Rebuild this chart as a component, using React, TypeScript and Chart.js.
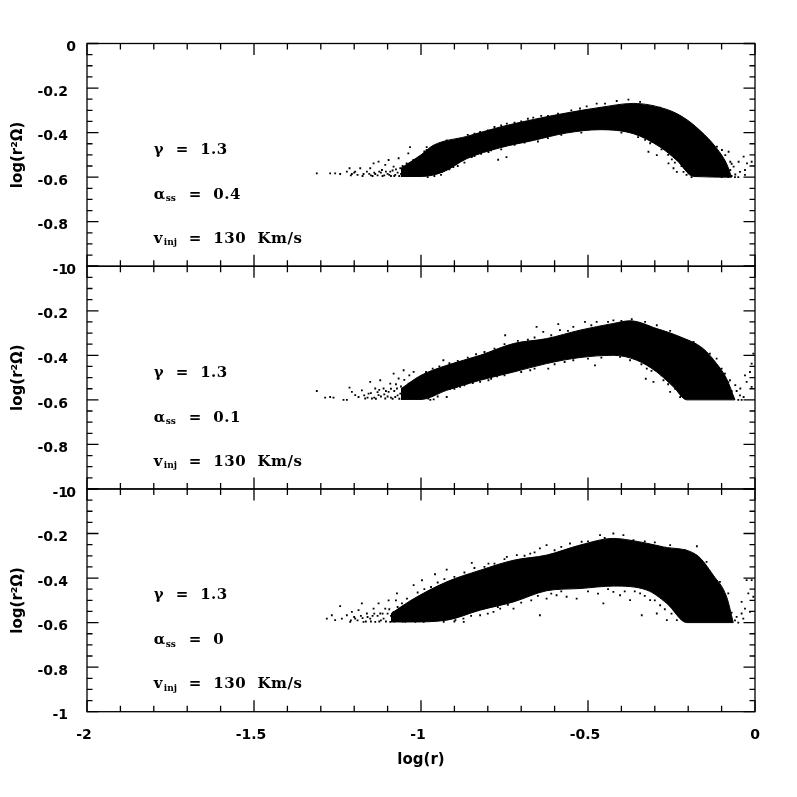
import React, { useEffect, useRef } from "react";
import { Chart, registerables } from "chart.js";

Chart.register(...registerables);

// ---------- data ----------
const panelIds = ["y1", "y2", "y3"];
const alphaValues = ["0.4", "0.1", "0"];
const gammaText = "γ  =  1.3";
const alphaSub = "ss";
const injSub = "inj";
const injText = "=  130  Km/s";
const noteX = -1.8;
const noteRows = [-0.478, -0.68, -0.878];
const yTitle = "log(r²Ω)";
const xTitle = "log(r)";

const p1UpperX = [-1.06, -1.0, -0.963, -0.863, -0.763, -0.663, -0.565, -0.464, -0.364, -0.264, -0.214, -0.165, -0.115, -0.085, -0.07];
const p1UpperY = [-0.56, -0.5, -0.457, -0.417, -0.375, -0.341, -0.312, -0.287, -0.269, -0.296, -0.332, -0.39, -0.47, -0.54, -0.6];
const p1LowerX = [-1.06, -1.0, -0.934, -0.863, -0.763, -0.663, -0.565, -0.464, -0.364, -0.284, -0.234, -0.184, -0.07];
const p1LowerY = [-0.597, -0.597, -0.577, -0.517, -0.468, -0.435, -0.402, -0.387, -0.405, -0.465, -0.525, -0.597, -0.6];

const p2UpperX = [-1.06, -1.0, -0.923, -0.823, -0.723, -0.624, -0.524, -0.424, -0.374, -0.294, -0.224, -0.155, -0.115, -0.085, -0.06];
const p2UpperY = [-0.55, -0.49, -0.445, -0.4, -0.347, -0.325, -0.287, -0.257, -0.245, -0.28, -0.317, -0.37, -0.437, -0.505, -0.6];
const p2LowerX = [-1.06, -1.0, -0.923, -0.823, -0.723, -0.624, -0.524, -0.424, -0.354, -0.294, -0.244, -0.204, -0.06];
const p2LowerY = [-0.598, -0.598, -0.557, -0.512, -0.475, -0.437, -0.41, -0.4, -0.422, -0.475, -0.542, -0.6, -0.6];

const p3UpperX = [-1.09, -1.03, -0.923, -0.823, -0.723, -0.624, -0.524, -0.424, -0.374, -0.274, -0.174, -0.125, -0.085, -0.065];
const p3UpperY = [-0.56, -0.5, -0.417, -0.365, -0.32, -0.297, -0.252, -0.222, -0.23, -0.26, -0.297, -0.387, -0.484, -0.6];
const p3LowerX = [-1.09, -1.03, -0.923, -0.823, -0.723, -0.624, -0.524, -0.424, -0.324, -0.264, -0.204, -0.065];
const p3LowerY = [-0.597, -0.597, -0.589, -0.544, -0.507, -0.457, -0.447, -0.436, -0.454, -0.514, -0.6, -0.6];

const p1Dots = [
  [-1.312,-0.583],[-1.272,-0.583],[-1.257,-0.583],[-1.242,-0.586],[-1.222,-0.575],[-1.214,-0.56],[-1.207,-0.586],[-1.197,-0.575],
  [-1.182,-0.56],[-1.172,-0.586],[-1.162,-0.575],[-1.152,-0.56],[-1.142,-0.538],[-1.137,-0.586],[-1.127,-0.53],[-1.117,-0.568],
  [-1.107,-0.545],[-1.097,-0.523],[-1.092,-0.575],[-1.082,-0.553],[-1.077,-0.59],[-1.067,-0.515],[-1.062,-0.56],[-1.053,-0.575],
  [-1.043,-0.538],[-1.038,-0.493],[-1.028,-0.583],[-1.023,-0.523],[-1.013,-0.553],[-1.003,-0.59],[-0.983,-0.478],[-0.963,-0.463],
  [-1.15,-0.592],[-1.14,-0.58],[-1.13,-0.592],[-1.12,-0.58],[-1.11,-0.592],[-1.1,-0.585],[-1.09,-0.595],[-1.085,-0.57],[-1.07,-0.58],
  [-1.065,-0.595],[-1.05,-0.595],[-1.045,-0.565],[-1.04,-0.58],[-1.03,-0.56],[-1.025,-0.595],[-1.015,-0.54],[-1.01,-0.575],[-1.0,-0.56],
  [-0.744,-0.51],[-0.769,-0.522],[-0.798,-0.487],[-0.848,-0.51],[-0.903,-0.555],[-0.938,-0.577],[-1.033,-0.465],[-0.983,-0.465],
  [-0.923,-0.435],[-0.823,-0.397],[-0.743,-0.36],[-0.664,-0.333],[-0.524,-0.292],[-0.504,-0.282],[-0.474,-0.27],[-0.449,-0.27],
  [-0.414,-0.258],[-0.379,-0.252],[-0.344,-0.262],[-0.305,-0.282],[-0.285,-0.288],
  [-0.329,-0.433],[-0.314,-0.448],[-0.299,-0.441],[-0.319,-0.486],[-0.294,-0.501],[-0.259,-0.538],[-0.244,-0.56],[-0.229,-0.523],
  [-0.214,-0.576],[-0.199,-0.583],[-0.234,-0.576],[-0.249,-0.52],
  [-0.114,-0.463],[-0.099,-0.478],[-0.079,-0.486],[-0.089,-0.501],[-0.104,-0.523],[-0.074,-0.531],[-0.064,-0.553],[-0.049,-0.531],
  [-0.034,-0.508],[-0.024,-0.538],[-0.01,-0.531],[-0.045,-0.576],[-0.03,-0.568],[-0.074,-0.568],[-0.094,-0.583],[-0.059,-0.588],
  [-0.104,-0.568],[-0.03,-0.59],
  [-0.99,-0.485],[-0.97,-0.47],[-0.95,-0.46],[-0.93,-0.45],[-0.905,-0.44],[-0.88,-0.43],[-0.86,-0.41],[-0.84,-0.405],[-0.8,-0.39],
  [-0.78,-0.375],[-0.76,-0.368],[-0.72,-0.355],[-0.7,-0.35],[-0.68,-0.338],[-0.64,-0.325],[-0.62,-0.325],[-0.59,-0.315],[-0.55,-0.3],
  [-0.98,-0.6],[-0.96,-0.595],[-0.94,-0.59],[-0.915,-0.565],[-0.89,-0.55],[-0.87,-0.535],[-0.84,-0.505],[-0.82,-0.495],[-0.79,-0.48],
  [-0.76,-0.475],[-0.72,-0.455],[-0.69,-0.445],[-0.65,-0.44],[-0.62,-0.425],[-0.58,-0.41],[-0.52,-0.4],[-0.4,-0.4],
  [-0.35,-0.42],[-0.33,-0.42],[-0.31,-0.44],[-0.28,-0.475],[-0.26,-0.5],[-0.24,-0.535],[-0.22,-0.55],[-0.205,-0.59],[-0.19,-0.6],
  [-1.155,-0.585],[-1.145,-0.595],[-1.125,-0.575],[-1.115,-0.595],[-1.105,-0.575],[-1.095,-0.59],[-1.08,-0.595],[-1.075,-0.565],
  [-1.06,-0.585],[-1.055,-0.55],[-1.035,-0.54],[-1.02,-0.56],[-1.19,-0.59],[-1.2,-0.58],[-1.21,-0.592],[-1.175,-0.595],
  [-0.11,-0.5],[-0.09,-0.53],[-0.085,-0.56],[-0.07,-0.54],[-0.08,-0.6],[-0.07,-0.595],[-0.06,-0.6],[-0.05,-0.6],[-0.1,-0.6],[-0.09,-0.595],
];

const p2Dots = [
  [-1.312,-0.56],[-1.287,-0.59],[-1.272,-0.587],[-1.262,-0.59],[-1.232,-0.6],[-1.222,-0.6],[-1.214,-0.545],[-1.207,-0.564],
  [-1.197,-0.579],[-1.187,-0.587],[-1.177,-0.557],[-1.167,-0.594],[-1.157,-0.572],[-1.152,-0.519],[-1.147,-0.594],[-1.137,-0.549],
  [-1.127,-0.579],[-1.122,-0.512],[-1.112,-0.549],[-1.107,-0.594],[-1.097,-0.564],[-1.092,-0.527],[-1.082,-0.482],[-1.077,-0.587],
  [-1.072,-0.549],[-1.067,-0.504],[-1.062,-0.572],[-1.052,-0.467],[-1.047,-0.594],[-1.037,-0.527],[-1.027,-0.564],[-1.022,-0.474],
  [-1.012,-0.594],[-1.002,-0.549],[-0.987,-0.587],[-0.972,-0.6],[-0.962,-0.598],[-0.977,-0.557],[-0.933,-0.422],[-0.923,-0.549],
  [-0.893,-0.542],[-0.863,-0.527],
  [-1.08,-0.56],[-1.075,-0.53],[-1.07,-0.58],[-1.06,-0.54],[-1.055,-0.59],[-1.05,-0.51],[-1.045,-0.55],[-1.04,-0.575],[-1.035,-0.49],
  [-1.03,-0.535],[-1.02,-0.59],[-1.015,-0.51],[-1.11,-0.575],[-1.1,-0.585],[-1.12,-0.585],[-1.13,-0.565],[-1.14,-0.59],[-1.09,-0.55],[-1.085,-0.595],
  [-0.748,-0.31],[-0.654,-0.272],[-0.589,-0.26],[-0.634,-0.295],[-0.584,-0.287],[-0.544,-0.272],[-0.509,-0.25],[-0.474,-0.25],
  [-0.424,-0.243],[-0.369,-0.238],[-0.329,-0.25],[-0.294,-0.265],[-0.254,-0.29],[-0.184,-0.34],[-0.135,-0.392],[-0.115,-0.415],
  [-0.09,-0.482],[-0.075,-0.512],[-0.479,-0.445],[-0.619,-0.46],[-0.673,-0.467],[-0.544,-0.422],[-0.404,-0.407],[-0.374,-0.422],
  [-0.324,-0.46],[-0.294,-0.452],[-0.327,-0.505],[-0.304,-0.519],[-0.274,-0.512],[-0.254,-0.564],[-0.224,-0.587],[-0.239,-0.55],[-0.214,-0.572],
  [-0.059,-0.534],[-0.044,-0.549],[-0.034,-0.587],[-0.03,-0.49],[-0.015,-0.475],[-0.025,-0.519],[-0.01,-0.437],[-0.01,-0.542],[-0.005,-0.392],[-0.045,-0.58],
  [-0.943,-0.557],[-0.913,-0.55],[-0.883,-0.542],[-0.823,-0.519],[-0.798,-0.512],[-0.772,-0.494],[-0.978,-0.594],[-0.963,-0.579],[-0.923,-0.587],
  [-0.985,-0.475],[-0.965,-0.46],[-0.945,-0.45],[-0.915,-0.435],[-0.89,-0.425],[-0.86,-0.41],[-0.835,-0.395],[-0.81,-0.385],[-0.78,-0.37],
  [-0.75,-0.35],[-0.71,-0.335],[-0.68,-0.33],[-0.66,-0.32],[-0.61,-0.31],[-0.56,-0.29],[-0.49,-0.265],[-0.44,-0.25],[-0.4,-0.245],
  [-0.99,-0.59],[-0.95,-0.585],[-0.9,-0.55],[-0.87,-0.535],[-0.845,-0.525],[-0.79,-0.505],[-0.75,-0.49],[-0.7,-0.475],[-0.66,-0.46],
  [-0.6,-0.44],[-0.57,-0.43],[-0.5,-0.415],[-0.46,-0.41],[-0.34,-0.44],[-0.31,-0.47],[-0.28,-0.49],[-0.26,-0.53],[-0.23,-0.56],
  [-1.17,-0.58],[-1.16,-0.59],[-1.15,-0.57],[-1.135,-0.595],[-1.125,-0.555],[-1.105,-0.56],[-1.09,-0.59],[-1.065,-0.595],[-1.025,-0.545],[-1.01,-0.57],
  [-0.1,-0.46],[-0.08,-0.52],[-0.07,-0.56],[-0.055,-0.56],[-0.05,-0.6],[-0.04,-0.6],
];

const p3Dots = [
  [-1.282,-0.582],[-1.267,-0.567],[-1.257,-0.589],[-1.242,-0.526],[-1.237,-0.582],[-1.222,-0.567],[-1.212,-0.597],[-1.207,-0.552],
  [-1.197,-0.582],[-1.187,-0.544],[-1.177,-0.514],[-1.172,-0.597],[-1.162,-0.559],[-1.152,-0.582],[-1.142,-0.537],[-1.137,-0.597],
  [-1.127,-0.514],[-1.122,-0.559],[-1.112,-0.582],[-1.107,-0.537],[-1.097,-0.5],[-1.092,-0.597],[-1.082,-0.552],[-1.072,-0.469],
  [-1.067,-0.582],[-1.057,-0.514],[-1.047,-0.597],[-1.042,-0.492],[-1.032,-0.559],[-1.022,-0.432],[-1.017,-0.597],[-0.997,-0.41],
  [-0.992,-0.597],[-0.962,-0.582],[-0.958,-0.383],[-0.932,-0.597],[-0.897,-0.589],[-0.872,-0.597],
  [-1.15,-0.595],[-1.16,-0.575],[-1.13,-0.57],[-1.12,-0.59],[-1.1,-0.56],[-1.09,-0.57],[-1.08,-0.595],[-1.07,-0.53],[-1.06,-0.56],
  [-1.05,-0.53],[-1.14,-0.56],[-1.03,-0.59],[-1.0,-0.58],[-1.01,-0.55],[-1.18,-0.57],[-1.19,-0.59],
  [-0.923,-0.362],[-0.848,-0.332],[-0.798,-0.335],[-0.743,-0.305],[-0.713,-0.297],[-0.644,-0.267],[-0.624,-0.252],[-0.673,-0.29],
  [-0.554,-0.245],[-0.519,-0.237],[-0.464,-0.207],[-0.424,-0.2],[-0.394,-0.207],[-0.364,-0.23],[-0.254,-0.252],[-0.174,-0.257],
  [-0.145,-0.327],[-0.105,-0.417],[-0.08,-0.469],[-0.04,-0.507],
  [-0.723,-0.537],[-0.644,-0.567],[-0.624,-0.492],[-0.594,-0.477],[-0.564,-0.484],[-0.534,-0.492],[-0.454,-0.514],[-0.424,-0.462],
  [-0.404,-0.477],[-0.374,-0.499],[-0.344,-0.469],[-0.314,-0.499],[-0.339,-0.567],[-0.294,-0.559],[-0.264,-0.589],[-0.284,-0.522],
  [-0.234,-0.589],[-0.783,-0.552],[-0.823,-0.567],[-0.873,-0.582],[-0.763,-0.537],
  [-0.055,-0.574],[-0.04,-0.559],[-0.025,-0.409],[-0.01,-0.409],[-0.02,-0.469],[-0.005,-0.484],[-0.03,-0.537],[-0.015,-0.552],[-0.035,-0.582],
  [-1.01,-0.465],[-0.99,-0.45],[-0.97,-0.44],[-0.95,-0.42],[-0.93,-0.405],[-0.9,-0.395],[-0.87,-0.375],[-0.84,-0.355],[-0.81,-0.35],
  [-0.78,-0.335],[-0.75,-0.315],[-0.69,-0.3],[-0.66,-0.285],[-0.6,-0.275],[-0.58,-0.26],[-0.5,-0.235],[-0.45,-0.22],[-0.33,-0.235],[-0.3,-0.24],[-0.21,-0.275],
  [-0.9,-0.595],[-0.85,-0.57],[-0.8,-0.56],[-0.77,-0.53],[-0.74,-0.52],[-0.7,-0.51],[-0.67,-0.5],[-0.65,-0.48],[-0.61,-0.47],[-0.58,-0.46],
  [-0.5,-0.46],[-0.47,-0.47],[-0.44,-0.45],[-0.39,-0.46],[-0.36,-0.46],[-0.33,-0.48],[-0.3,-0.5],[-0.27,-0.54],[-0.25,-0.56],[-0.22,-0.58],
  [-1.21,-0.59],[-1.2,-0.575],[-1.175,-0.58],[-1.165,-0.595],[-1.145,-0.57],[-1.125,-0.595],[-1.115,-0.56],[-1.105,-0.595],[-1.095,-0.54],[-1.085,-0.58],
  [-1.075,-0.5],[-1.065,-0.54],[-1.055,-0.595],[-1.04,-0.52],[-1.025,-0.57],
  [-0.11,-0.44],[-0.095,-0.5],[-0.08,-0.53],[-0.07,-0.555],[-0.06,-0.59],[-0.05,-0.6],
];

// ---------- helpers ----------
const zip = (xs: number[], ys: number[]) => xs.map((x, i) => ({ x, y: ys[i] }));
const bandSets = (yAxisID: string, ux: number[], uy: number[], lx: number[], ly: number[], dots: number[][]) => [
  { type: "line", yAxisID, data: zip(ux, uy), borderColor: "#000", borderWidth: 1, pointRadius: 0, cubicInterpolationMode: "monotone", fill: "+1", backgroundColor: "#000" },
  { type: "line", yAxisID, data: zip(lx, ly), borderColor: "#000", borderWidth: 1, pointRadius: 0, cubicInterpolationMode: "monotone", fill: false },
  { type: "scatter", yAxisID, data: dots.map(([x, y]) => ({ x, y })), pointStyle: "rect", pointRadius: 1.3, backgroundColor: "#000", borderWidth: 0 },
];

const TICK_FONT = { family: "'DejaVu Sans'", size: 14, weight: "bold" as const };
const TITLE_FONT = { family: "'DejaVu Sans'", size: 15, weight: "bold" as const };
const NOTE_FONT = "600 15px 'DejaVu Serif'";
const SUB_FONT = "600 9px 'DejaVu Serif'";

const nearMultiple = (v: number, step: number) => Math.abs(v / step - Math.round(v / step)) < 1e-6;

const framePlugin = {
  id: "frame",
  beforeDraw(chart: any) {
    // Nudge the library's tick labels to where the reference has them.
    Object.values(chart.scales).forEach((scale: any) => {
      if (scale._nudged) return;
      scale._nudged = true;
      scale.getLabelItems().forEach((item: any) => {
        const t = item.options.translation;
        if (scale.axis === "y") {
          t[1] += 4;
          if (item.label === "0") t[0] += 8;
        } else if (item.label !== "0") {
          t[0] -= 3;
        }
      });
    });
  },
  afterDraw(chart: any) {
    const { ctx, chartArea: a } = chart;
    const xs = chart.scales.x;
    ctx.save();
    ctx.strokeStyle = "#000";
    ctx.fillStyle = "#000";
    ctx.lineWidth = 1.3;
    panelIds.forEach((id, p) => {
      const ys = chart.scales[id];
      ctx.strokeRect(a.left, ys.top, a.right - a.left, ys.bottom - ys.top);
      ctx.beginPath();
      xs.ticks.forEach((t: any) => {
        const px = xs.getPixelForValue(t.value);
        const len = nearMultiple(t.value, 0.5) ? 11.5 : 6;
        ctx.moveTo(px, ys.top);
        ctx.lineTo(px, ys.top + len);
        ctx.moveTo(px, ys.bottom);
        ctx.lineTo(px, ys.bottom - len);
      });
      ys.ticks.forEach((t: any) => {
        const py = ys.getPixelForValue(t.value);
        const len = nearMultiple(t.value, 0.2) ? 11.5 : 5.5;
        ctx.moveTo(a.left, py);
        ctx.lineTo(a.left + len, py);
        ctx.moveTo(a.right, py);
        ctx.lineTo(a.right - len, py);
      });
      ctx.stroke();

      const nx = xs.getPixelForValue(noteX);
      ctx.textBaseline = "middle";
      ctx.textAlign = "left";
      (ctx as any).letterSpacing = "0.5px";
      ctx.font = NOTE_FONT;
      ctx.fillText(gammaText, nx, ys.getPixelForValue(noteRows[0]));
      const ay = ys.getPixelForValue(noteRows[1]);
      ctx.fillText("α", nx, ay);
      ctx.fillText("=  " + alphaValues[p], nx + 35, ay);
      const vy = ys.getPixelForValue(noteRows[2]);
      ctx.fillText("v", nx, vy);
      ctx.fillText(injText, nx + 35, vy);
      ctx.font = SUB_FONT;
      (ctx as any).letterSpacing = "0px";
      ctx.fillText(alphaSub, nx + 12, ay + 4);
      ctx.fillText(injSub, nx + 10, vy + 4);
    });
    ctx.restore();
  },
};

const yAxis = (weight: number) => ({
  type: "linear",
  position: "left",
  stack: "panels",
  stackWeight: 1,
  weight,
  min: -1,
  max: 0,
  afterFit: (s: any) => { s.width = 87; },
  grid: { display: false, drawTicks: false },
  border: { display: false },
  title: { display: true, text: yTitle, color: "#000", font: TITLE_FONT, padding: { top: 9, bottom: 0 } },
  ticks: {
    stepSize: 0.05,
    autoSkip: false,
    color: "#000",
    font: TICK_FONT,
    padding: 19,
    callback: (v: number) => {
      if (!nearMultiple(v, 0.2)) return "";
      const r = Math.round(v * 10) / 10;
      return r === 0 ? "0" : String(r);
    },
  },
});

export default function App() {
  const ref = useRef<HTMLCanvasElement>(null);
  useEffect(() => {
    const chart = new Chart(ref.current as HTMLCanvasElement, {
      type: "line",
      data: {
        datasets: [
          ...bandSets("y1", p1UpperX, p1UpperY, p1LowerX, p1LowerY, p1Dots),
          ...bandSets("y2", p2UpperX, p2UpperY, p2LowerX, p2LowerY, p2Dots),
          ...bandSets("y3", p3UpperX, p3UpperY, p3LowerX, p3LowerY, p3Dots),
        ] as any,
      },
      options: {
        animation: false,
        responsive: false,
        layout: { padding: { top: 43.5, right: 42, left: 0, bottom: 0 } },
        plugins: { legend: { display: false }, tooltip: { enabled: false } },
        scales: {
          x: {
            type: "linear",
            position: "bottom",
            min: -2,
            max: 0,
            afterFit: (s: any) => { s.height = 85.3; },
            grid: { display: false, drawTicks: false },
            border: { display: false },
            title: { display: true, text: xTitle, color: "#000", font: TITLE_FONT, padding: { top: 0, bottom: 28 } },
            ticks: {
              stepSize: 0.1,
              autoSkip: false,
              maxRotation: 0,
              color: "#000",
              font: TICK_FONT,
              padding: 15,
              callback: (v: number) => {
                if (!nearMultiple(v, 0.5)) return "";
                const r = Math.round(v * 10) / 10;
                return r === 0 ? "0" : String(r);
              },
            },
          },
          y3: yAxis(1),
          y2: yAxis(2),
          y1: yAxis(3),
        } as any,
      },
      plugins: [framePlugin],
    } as any);
    return () => chart.destroy();
  }, []);
  return (
    <canvas
      ref={ref}
      width={797}
      height={797}
      style={{ position: "fixed", top: 0, left: 0, width: 797, height: 797, display: "block" }}
    />
  );
}
